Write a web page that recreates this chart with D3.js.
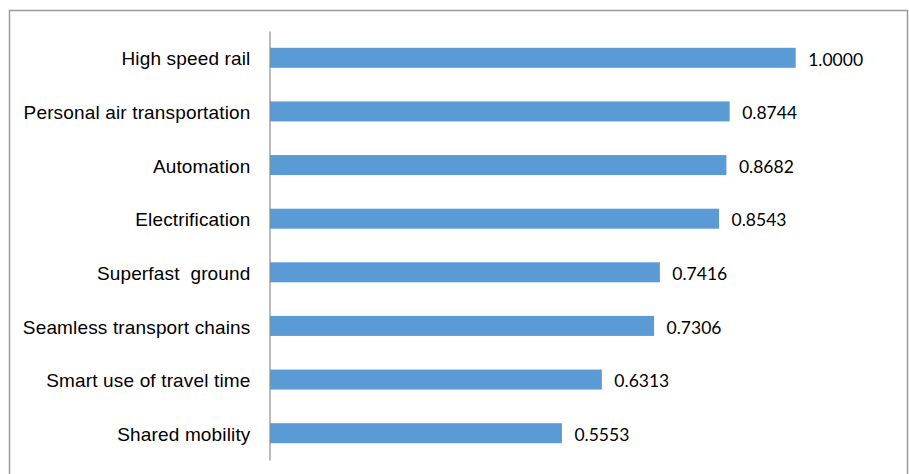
<!DOCTYPE html>
<html>
<head>
<meta charset="utf-8">
<script src="https://cdn.jsdelivr.net/npm/d3@7"></script>
<style>
  html, body { margin: 0; padding: 0; background: #fff; }
  svg { display: block; }
</style>
</head>
<body>
<svg id="chart" width="909" height="474"></svg>
<script>
// Technology trend scores, listed top to bottom
const categories = [
  "High speed rail",
  "Personal air transportation",
  "Automation",
  "Electrification",
  "Superfast  ground",
  "Seamless transport chains",
  "Smart use of travel time",
  "Shared mobility"
];
const scores = [1.0000, 0.8744, 0.8682, 0.8543, 0.7416, 0.7306, 0.6313, 0.5553];

const data = categories.map((c, i) => ({ name: c, value: scores[i] }));

const svg = d3.select("#chart");

// Outer frame
svg.append("rect")
  .attr("x", 9.5).attr("y", 10.5)
  .attr("width", 898).attr("height", 480)
  .attr("fill", "none")
  .attr("stroke", "#9a9a9a")
  .attr("stroke-width", 1.5);

const plot = { left: 270, right: 795.7, top: 31, bottom: 460 };

const x = d3.scaleLinear().domain([0, 1]).range([plot.left, plot.right]);
const y = d3.scaleBand()
  .domain(categories)
  .range([plot.top, plot.bottom])
  .paddingInner(0.627)
  .paddingOuter(0.3135);

// Bars
svg.append("g")
  .selectAll("rect")
  .data(data)
  .join("rect")
  .attr("x", x(0))
  .attr("y", d => y(d.name))
  .attr("width", d => x(d.value) - x(0))
  .attr("height", y.bandwidth())
  .attr("fill", "#5b9bd5");

// Category axis (vertical line, no ticks)
const axis = d3.axisLeft(y).tickSize(0).tickPadding(19);
const gAxis = svg.append("g")
  .attr("transform", `translate(${plot.left - 0.5},0)`)
  .call(axis);
gAxis.select(".domain")
  .attr("stroke", "#8c8c8c")
  .attr("stroke-width", 1.2);
gAxis.selectAll("text")
  .attr("fill", "#000")
  .style("font-family", "'Liberation Sans', Arial, sans-serif")
  .style("font-size", "19px")
  .style("letter-spacing", "0.15px")
  .style("white-space", "pre")
  .attr("dy", "0.4em");

// Value labels
svg.append("g")
  .selectAll("text")
  .data(data)
  .join("text")
  .attr("x", d => x(d.value) + 12.5)
  .attr("y", d => y(d.name) + y.bandwidth() / 2)
  .attr("dy", "0.44em")
  .style("font-family", "Lato, 'Open Sans', sans-serif")
  .style("font-size", "17.5px")
  .attr("fill", "#000")
  .text(d => d.value.toFixed(4));
</script>
</body>
</html>
